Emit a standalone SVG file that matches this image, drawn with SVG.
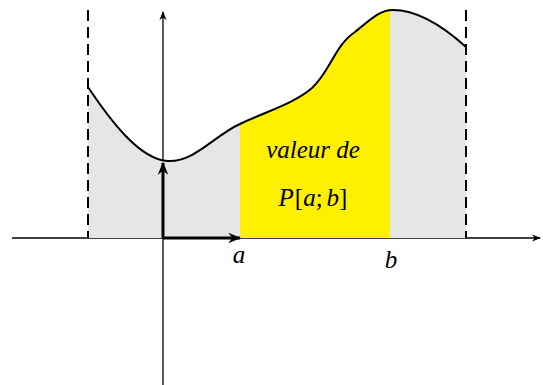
<svg xmlns="http://www.w3.org/2000/svg" width="543" height="385" viewBox="0 0 543 385">
<style>
.axis{stroke:#000;stroke-width:1.3;fill:none}
.vec{stroke:#000;stroke-width:3;fill:none}
.dash{stroke:#000;stroke-width:2;stroke-dasharray:11 6;fill:none}
.curve{stroke:#000;stroke-width:2;fill:none;stroke-linejoin:round}
text{font-family:'Liberation Serif','Times New Roman',serif;font-size:25px;fill:#000}
.i{font-style:italic}
</style>
<defs>
<marker id="ah" viewBox="0 0 10 10" refX="9" refY="5" markerWidth="9" markerHeight="9" markerUnits="userSpaceOnUse" orient="auto">
<path d="M0,1 L10,5 L0,9 L3,5 Z" fill="#000"/>
</marker>
<marker id="ahb" viewBox="0 0 10 10" refX="9" refY="5" markerWidth="13" markerHeight="13" markerUnits="userSpaceOnUse" orient="auto">
<path d="M0,1 L10,5 L0,9 L3,5 Z" fill="#000"/>
</marker>
<clipPath id="ab"><rect x="240" y="0" width="150" height="240"/></clipPath>
<path id="area" d="M88,87 C110,120 140,160 168,161 C195,162 215,135 240,124 C265,112 295,103 312,88 C330,72 335,45 355,32 C372,18 380,10 393,10 C420,10 445,28 466,47 L466,238 L88,238 Z"/>
</defs>
<g id="connectors">
<line class="axis" x1="12" y1="238" x2="540" y2="238" marker-end="url(#ah)"/>
<line class="axis" x1="163" y1="385" x2="163" y2="12" marker-end="url(#ah)"/>
</g>
<g id="fill-area">
<use href="#area" fill="#e6e6e6"/>
<use href="#area" fill="#fff000" clip-path="url(#ab)"/>
</g>
<g id="bounds">
<line class="dash" x1="88" y1="10" x2="88" y2="238"/>
<line class="dash" x1="466" y1="10" x2="466" y2="238"/>
</g>
<g id="curve">
<path class="curve" d="M88,87 C110,120 140,160 168,161 C195,162 215,135 240,124 C265,112 295,103 312,88 C330,72 335,45 355,32 C372,18 380,10 393,10 C420,10 445,28 466,47"/>
</g>
<g id="vectors">
<line class="vec" x1="163" y1="238" x2="163" y2="163" marker-end="url(#ahb)"/>
<line class="vec" x1="163" y1="238" x2="240" y2="238" marker-end="url(#ahb)"/>
</g>
<g id="labels">
<text class="i" x="313" y="158" text-anchor="middle">valeur de</text>
<text x="313" y="206" text-anchor="middle"><tspan class="i">P</tspan><tspan dx="1">[</tspan><tspan class="i">a</tspan>;<tspan class="i" dx="4">b</tspan>]</text>
<text class="i" x="239" y="263" text-anchor="middle">a</text>
<text class="i" x="391" y="268" text-anchor="middle">b</text>
</g>
</svg>
